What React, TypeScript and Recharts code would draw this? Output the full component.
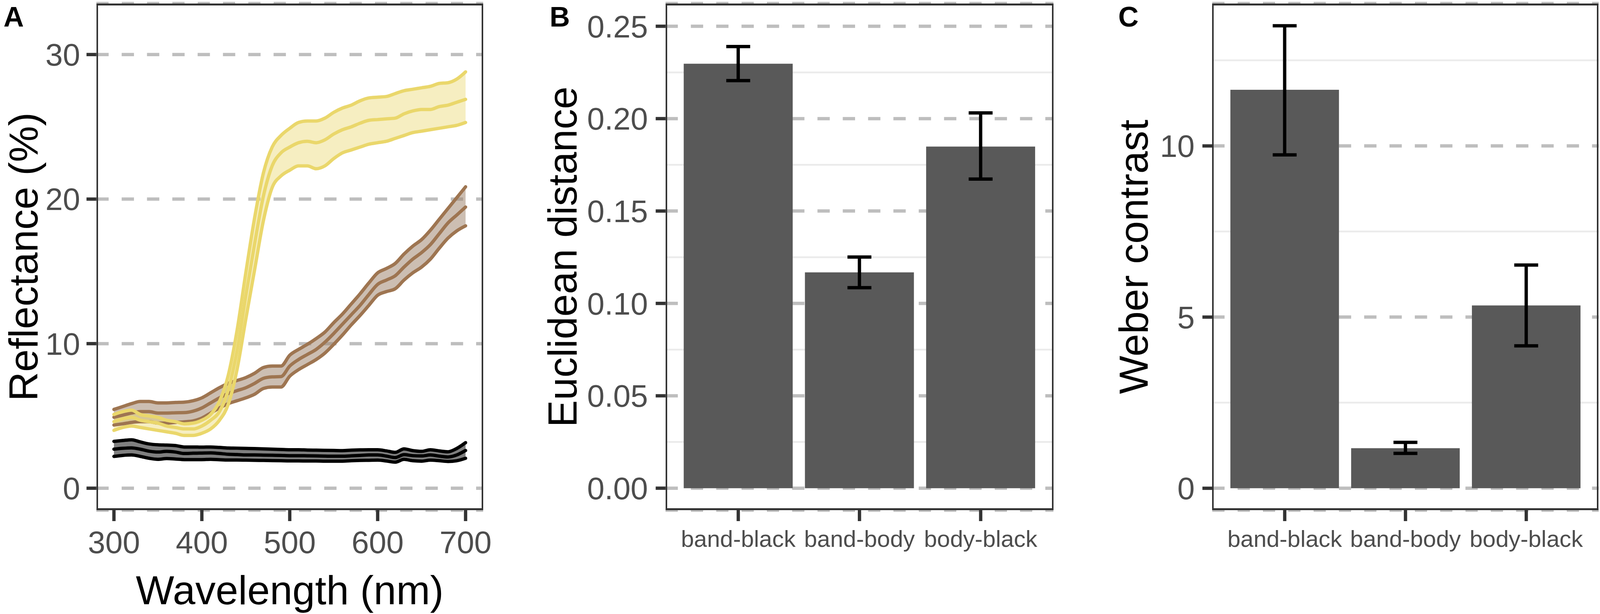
import {
  Area,
  Bar,
  BarChart,
  CartesianGrid,
  ComposedChart,
  ErrorBar,
  Label,
  Line,
  XAxis,
  YAxis,
} from "recharts";

const FONT = '"Liberation Sans", Arial, Helvetica, sans-serif';
const TICK_GREY = "#4D4D4D";
const AXIS_DARK = "#333333";
const GRID_MAJOR = "#BEBEBE";
const GRID_MINOR = "#EBEBEB";
const LINE_W = 8.5;

// the browser page is only 4096px wide, so horizontal layout of the 4550px figure is squeezed to fit
const PAGE_W = 4096;
const PAGE_H = 1573;
const SX = PAGE_W / 4550;
const sx = (v: number) => v * SX;
const DASH = `${sx(35)} ${sx(37)}`;

// Panel A: reflectance spectra (mean and band limits, every 10 nm)
const WAVELENGTHS = [
  300, 310, 320, 330, 340, 350, 360, 370, 380, 390, 400, 410, 420, 430, 440,
  450, 460, 470, 480, 490, 500, 510, 520, 530, 540, 550, 560, 570, 580, 590,
  600, 610, 620, 630, 640, 650, 660, 670, 680, 690, 700,
];
const BAND_LOW = [
  4.0, 4.2, 4.3, 4.2, 4.1, 4.0, 3.9, 3.8, 3.65, 3.65, 3.8, 4.1, 4.7, 5.8, 8.2,
  11.7, 15.1, 18.5, 20.8, 21.6, 22.0, 22.3, 22.3, 22.1, 22.3, 22.8, 23.2, 23.4,
  23.6, 23.8, 23.9, 24.0, 24.2, 24.4, 24.6, 24.7, 24.8, 24.9, 25.0, 25.1, 25.3,
];
const BAND_MEAN = [
  4.6, 4.8, 4.9, 4.7, 4.6, 4.5, 4.3, 4.2, 4.1, 4.1, 4.3, 4.7, 5.3, 6.8, 9.5,
  13.3, 16.9, 20.2, 22.3, 23.2, 23.6, 23.9, 24.0, 23.9, 24.1, 24.5, 24.8, 25.0,
  25.25, 25.45, 25.5, 25.55, 25.6, 25.9, 26.1, 26.2, 26.2, 26.4, 26.5, 26.7, 26.9,
];
const BAND_HIGH = [
  5.1, 5.3, 5.4, 5.1, 5.0, 4.9, 4.7, 4.6, 4.45, 4.5, 4.7, 5.1, 6.0, 7.8, 10.9,
  14.9, 18.7, 21.8, 23.6, 24.4, 24.9, 25.3, 25.4, 25.4, 25.6, 26.0, 26.3, 26.5,
  26.8, 27.0, 27.05, 27.1, 27.3, 27.5, 27.6, 27.7, 27.8, 28.0, 28.05, 28.3, 28.8,
];
const BODY_LOW = [
  4.37, 4.45, 4.55, 4.6, 4.6, 4.5, 4.5, 4.55, 4.59, 4.65, 4.85, 5.2, 5.55, 5.85,
  6.05, 6.25, 6.5, 6.9, 7.0, 7.0, 7.75, 8.2, 8.55, 8.9, 9.35, 9.95, 10.6, 11.3,
  11.95, 12.65, 13.35, 13.6, 13.8, 14.4, 14.9, 15.3, 15.85, 16.6, 17.3, 17.8, 18.15,
];
const BODY_MEAN = [
  4.91, 5.05, 5.2, 5.3, 5.3, 5.2, 5.2, 5.22, 5.23, 5.33, 5.55, 5.9, 6.25, 6.55,
  6.75, 6.95, 7.25, 7.6, 7.7, 7.72, 8.45, 8.9, 9.25, 9.6, 10.1, 10.7, 11.35, 12.0,
  12.65, 13.4, 14.1, 14.4, 14.7, 15.3, 15.85, 16.3, 16.85, 17.6, 18.35, 18.9, 19.45,
];
const BODY_HIGH = [
  5.45, 5.65, 5.85, 6.0, 6.0, 5.9, 5.9, 5.93, 5.95, 6.05, 6.25, 6.6, 6.95, 7.25,
  7.45, 7.65, 7.95, 8.35, 8.45, 8.45, 9.2, 9.6, 9.95, 10.35, 10.8, 11.45, 12.05,
  12.75, 13.45, 14.2, 14.9, 15.2, 15.55, 16.2, 16.75, 17.2, 17.85, 18.6, 19.35, 20.1, 20.85,
];
const BLACK_LOW = [
  2.2, 2.27, 2.3, 2.2, 2.07, 2.0, 2.05, 2.02, 1.98, 1.98, 1.98, 2.0, 1.97, 1.95,
  1.95, 1.94, 1.93, 1.92, 1.91, 1.9, 1.89, 1.89, 1.88, 1.88, 1.87, 1.87, 1.87,
  1.9, 1.92, 1.93, 1.94, 1.88, 1.8, 2.0, 1.9, 1.87, 1.94, 1.9, 1.85, 1.9, 2.07,
];
const BLACK_MEAN = [
  2.7, 2.76, 2.79, 2.7, 2.56, 2.5, 2.55, 2.5, 2.4, 2.42, 2.43, 2.44, 2.4, 2.35,
  2.33, 2.3, 2.3, 2.29, 2.28, 2.27, 2.25, 2.25, 2.24, 2.23, 2.22, 2.21, 2.21,
  2.24, 2.27, 2.3, 2.3, 2.22, 2.12, 2.32, 2.25, 2.23, 2.3, 2.22, 2.16, 2.3, 2.61,
];
const BLACK_HIGH = [
  3.24, 3.3, 3.35, 3.2, 3.06, 3.0, 2.98, 2.95, 2.85, 2.85, 2.84, 2.85, 2.82, 2.78,
  2.77, 2.75, 2.74, 2.72, 2.7, 2.68, 2.66, 2.66, 2.64, 2.63, 2.62, 2.61, 2.6,
  2.63, 2.65, 2.66, 2.66, 2.58, 2.48, 2.72, 2.6, 2.55, 2.66, 2.58, 2.52, 2.75, 3.15,
];
const WAVELENGTH_TICKS = [300, 400, 500, 600, 700];
const REFLECTANCE_TICKS = [0, 10, 20, 30];

// Panels B and C: pairwise contrasts with error bars
const PAIRS = ["band-black", "band-body", "body-black"];
const EUCLID_MEAN = [0.2297, 0.1168, 0.1849];
const EUCLID_LOW = [0.2206, 0.1085, 0.1673];
const EUCLID_HIGH = [0.239, 0.1251, 0.2031];
const EUCLID_TICKS = [0, 0.05, 0.1, 0.15, 0.2, 0.25];
const EUCLID_MINOR = [0.025, 0.075, 0.125, 0.175, 0.225];
const WEBER_MEAN = [11.64, 1.17, 5.34];
const WEBER_LOW = [9.74, 1.02, 4.16];
const WEBER_HIGH = [13.51, 1.34, 6.52];
const WEBER_TICKS = [0, 5, 10];
const WEBER_MINOR = [2.5, 7.5, 12.5];

const spectra = WAVELENGTHS.map((nm, i) => ({
  nm,
  bandLow: BAND_LOW[i],
  bandMean: BAND_MEAN[i],
  bandHigh: BAND_HIGH[i],
  bandRange: [BAND_LOW[i], BAND_HIGH[i]],
  bodyLow: BODY_LOW[i],
  bodyMean: BODY_MEAN[i],
  bodyHigh: BODY_HIGH[i],
  bodyRange: [BODY_LOW[i], BODY_HIGH[i]],
  blackLow: BLACK_LOW[i],
  blackMean: BLACK_MEAN[i],
  blackHigh: BLACK_HIGH[i],
  blackRange: [BLACK_LOW[i], BLACK_HIGH[i]],
}));

const GROUPS = [
  { key: "body", line: "#9E7551", fill: "#9A7D66", opacity: 0.5 },
  { key: "black", line: "#000000", fill: "#000000", opacity: 0.5 },
  { key: "band", line: "#EAD76B", fill: "#EAD76B", opacity: 0.42 },
];

const pairRows = (mean: number[], low: number[], high: number[]) =>
  PAIRS.map((pair, i) => ({
    pair,
    value: mean[i],
    err: [mean[i] - low[i], high[i] - mean[i]],
  }));

const tickStyle = (size: number) => ({ fill: TICK_GREY, fontSize: size, fontFamily: FONT });
const tickLineStyle = { stroke: AXIS_DARK, strokeWidth: LINE_W };

// plot rectangles (top 9, bottom 1307 in every panel)
const PLOT_TOP = 9;
const PLOT_H = 1298;
const A_AXIS_W = sx(274);
const A_PLOT_W = sx(1100);
const B_LEFT = sx(1500);
const B_AXIS_W = sx(393);
const B_PLOT_W = sx(1103);
const C_LEFT = sx(3050);
const C_AXIS_W = sx(397);
const C_PLOT_W = sx(1099);

function PlotFrame({ left, width }: { left: number; width: number }) {
  return (
    <div
      style={{
        position: "absolute",
        left,
        top: PLOT_TOP,
        width,
        height: PLOT_H,
        border: `5px solid ${AXIS_DARK}`,
        borderLeftWidth: 4.5,
        borderRightWidth: 4.5,
        boxSizing: "border-box",
        pointerEvents: "none",
      }}
    />
  );
}

function PanelLabel({ left, text }: { left: number; text: string }) {
  return (
    <div
      style={{
        position: "absolute",
        left,
        top: 7,
        fontFamily: FONT,
        fontWeight: "bold",
        fontSize: 72,
        lineHeight: "72px",
        color: "#000",
      }}
    >
      {text}
    </div>
  );
}

function SpectraPanel() {
  return (
    <div style={{ position: "absolute", left: 0, top: 0 }}>
      <ComposedChart
        width={A_AXIS_W + A_PLOT_W + 60}
        height={PAGE_H}
        data={spectra}
        margin={{ top: PLOT_TOP, right: 60, bottom: 0, left: 0 }}
      >
        <CartesianGrid
          vertical={false}
          stroke={GRID_MAJOR}
          strokeWidth={LINE_W}
          strokeDasharray={DASH}
        />
        <XAxis
          dataKey="nm"
          type="number"
          domain={[280, 720]}
          ticks={WAVELENGTH_TICKS}
          allowDataOverflow
          height={PAGE_H - PLOT_TOP - PLOT_H}
          axisLine={false}
          tickSize={28}
          tickMargin={25}
          tickLine={tickLineStyle}
          tick={tickStyle(80)}
        >
          <Label
            value="Wavelength (nm)"
            position="insideBottom"
            offset={25}
            fill="#000000"
            fontSize={104}
            fontFamily={FONT}
          />
        </XAxis>
        <YAxis
          type="number"
          domain={[-1.52, 33.53]}
          ticks={REFLECTANCE_TICKS}
          interval={0}
          allowDataOverflow
          width={A_AXIS_W}
          axisLine={false}
          tickSize={sx(28)}
          tickMargin={sx(18)}
          tickLine={tickLineStyle}
          tick={tickStyle(80)}
        >
          <Label
            value="Reflectance (%)"
            angle={-90}
            position="insideLeft"
            offset={59}
            fill="#000000"
            fontSize={104}
            fontFamily={FONT}
            style={{ textAnchor: "middle" }}
          />
        </YAxis>
        {GROUPS.map((g) => (
          <Area
            key={`${g.key}-ribbon`}
            dataKey={`${g.key}Range`}
            type="monotone"
            stroke="none"
            fill={g.fill}
            fillOpacity={g.opacity}
            dot={false}
            activeDot={false}
            isAnimationActive={false}
          />
        ))}
        {GROUPS.flatMap((g) =>
          ["Low", "Mean", "High"].map((part) => (
            <Line
              key={`${g.key}${part}`}
              dataKey={`${g.key}${part}`}
              type="monotone"
              stroke={g.line}
              strokeWidth={LINE_W}
              strokeLinejoin="round"
              strokeLinecap="round"
              dot={false}
              activeDot={false}
              isAnimationActive={false}
            />
          ))
        )}
      </ComposedChart>
    </div>
  );
}

interface ContrastPanelProps {
  left: number;
  axisWidth: number;
  plotWidth: number;
  title: string;
  titleOffset: number;
  rows: { pair: string; value: number; err: number[] }[];
  ticks: number[];
  minor: number[];
  domain: [number, number];
  format: (v: number) => string;
}

function ContrastPanel({
  left,
  axisWidth,
  plotWidth,
  title,
  titleOffset,
  rows,
  ticks,
  minor,
  domain,
  format,
}: ContrastPanelProps) {
  const pad = (plotWidth / 3.2) * 0.1;
  return (
    <div style={{ position: "absolute", left, top: 0 }}>
      <BarChart
        width={axisWidth + plotWidth + 3}
        height={PAGE_H}
        data={rows}
        barCategoryGap="5%"
        margin={{ top: PLOT_TOP, right: 3, bottom: 0, left: 0 }}
      >
        <CartesianGrid
          vertical={false}
          horizontalValues={minor}
          stroke={GRID_MINOR}
          strokeWidth={4.5}
        />
        <CartesianGrid
          vertical={false}
          stroke={GRID_MAJOR}
          strokeWidth={LINE_W}
          strokeDasharray={DASH}
        />
        <XAxis
          dataKey="pair"
          type="category"
          padding={{ left: pad, right: pad }}
          interval={0}
          height={PAGE_H - PLOT_TOP - PLOT_H}
          axisLine={false}
          tickSize={28}
          tickMargin={23}
          tickLine={tickLineStyle}
          tick={tickStyle(60)}
        />
        <YAxis
          type="number"
          domain={domain}
          ticks={ticks}
          interval={0}
          allowDataOverflow
          tickFormatter={format}
          width={axisWidth}
          axisLine={false}
          tickSize={sx(28)}
          tickMargin={sx(22)}
          tickLine={tickLineStyle}
          tick={tickStyle(80)}
        >
          <Label
            value={title}
            angle={-90}
            position="insideLeft"
            offset={titleOffset}
            fill="#000000"
            fontSize={104}
            fontFamily={FONT}
            style={{ textAnchor: "middle" }}
          />
        </YAxis>
        <Bar dataKey="value" fill="#595959" isAnimationActive={false}>
          <ErrorBar
            dataKey="err"
            direction="y"
            width={sx(34)}
            stroke="#000000"
            strokeWidth={8.5}
            isAnimationActive={false}
          />
        </Bar>
      </BarChart>
    </div>
  );
}

export default function App() {
  return (
    <div
      style={{
        position: "absolute",
        left: 0,
        top: 0,
        width: PAGE_W,
        height: PAGE_H,
        background: "#ffffff",
        fontFamily: FONT,
        overflow: "hidden",
      }}
    >
      <SpectraPanel />
      <ContrastPanel
        left={B_LEFT}
        axisWidth={B_AXIS_W}
        plotWidth={B_PLOT_W}
        title="Euclidean distance"
        titleOffset={sx(99)}
        rows={pairRows(EUCLID_MEAN, EUCLID_LOW, EUCLID_HIGH)}
        ticks={EUCLID_TICKS}
        minor={EUCLID_MINOR}
        domain={[-0.0119, 0.2623]}
        format={(v) => v.toFixed(2)}
      />
      <ContrastPanel
        left={C_LEFT}
        axisWidth={C_AXIS_W}
        plotWidth={C_PLOT_W}
        title="Weber contrast"
        titleOffset={sx(172)}
        rows={pairRows(WEBER_MEAN, WEBER_LOW, WEBER_HIGH)}
        ticks={WEBER_TICKS}
        minor={WEBER_MINOR}
        domain={[-0.64, 14.16]}
        format={(v) => String(v)}
      />
      <PlotFrame left={A_AXIS_W} width={A_PLOT_W} />
      <PlotFrame left={B_LEFT + B_AXIS_W} width={B_PLOT_W} />
      <PlotFrame left={C_LEFT + C_AXIS_W} width={C_PLOT_W} />
      <PanelLabel left={sx(10)} text="A" />
      <PanelLabel left={sx(1563)} text="B" />
      <PanelLabel left={sx(3180)} text="C" />
    </div>
  );
}
